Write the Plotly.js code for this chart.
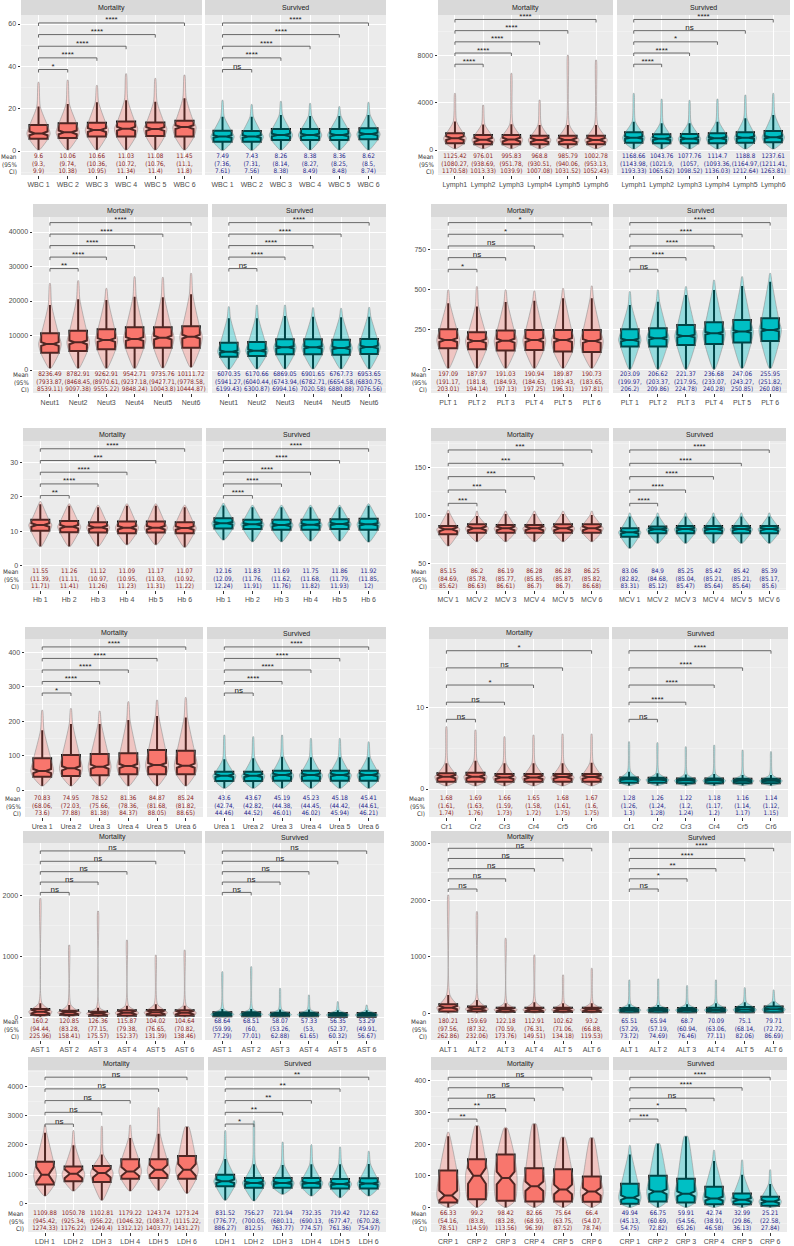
<!DOCTYPE html>
<html>
<head>
<meta charset="utf-8">
<script src="https://cdn.plot.ly/plotly-3.0.1.min.js"></script>
<style>body{margin:0;background:#fff}</style>
</head>
<body>
<div id="chart" style="width:794px;height:1246px"></div>
<script>
// box rows: [lower whisker, q1, median, q3, upper whisker, violin top, notch half-span]
// mean rows: [mean, ci low, ci high]
const wbcLabels = ['WBC 1', 'WBC 2', 'WBC 3', 'WBC 4', 'WBC 5', 'WBC 6'];
const wbcMortBox = [[0.5, 5.8, 8.3, 12.3, 21, 32.5, 0.9], [0.5, 6.1, 8.8, 13.1, 22.2, 33.5, 0.9], [0.5, 6.8, 9.9, 13.4, 23, 31, 0.9], [0.5, 6.8, 10.5, 13.9, 24, 36.5, 0.9], [0.5, 7.1, 10.4, 13.5, 23.3, 34.3, 0.9], [0.5, 6.8, 11.3, 14.3, 24.9, 35.9, 0.9]];
const wbcSurvBox = [[0.3, 4.4, 6.8, 9.6, 16.2, 24, 0.6], [0.3, 4.4, 6.8, 9.4, 16.2, 22, 0.6], [0.5, 5.2, 7.6, 10.4, 17, 23.5, 0.6], [0.5, 5.2, 7.6, 10.4, 16.5, 22.5, 0.6], [0.5, 5.2, 7.6, 10.4, 16.5, 21, 0.6], [0.5, 5.5, 8, 10.7, 17, 23, 0.6]];
const wbcMortMean = [[9.6, 9.3, 9.9], [10.06, 9.74, 10.38], [10.66, 10.36, 10.95], [11.03, 10.72, 11.34], [11.08, 10.76, 11.4], [11.45, 11.1, 11.8]];
const wbcSurvMean = [[7.49, 7.36, 7.61], [7.43, 7.31, 7.56], [8.26, 8.14, 8.38], [8.38, 8.27, 8.49], [8.36, 8.25, 8.48], [8.62, 8.5, 8.74]];
const wbcMortSig = ['*', '****', '****', '****', '****'];
const wbcSurvSig = ['ns', '****', '****', '****', '****'];

const lymLabels = ['Lymph1', 'Lymph2', 'Lymph3', 'Lymph4', 'Lymph5', 'Lymph6'];
const lymMortBox = [[100, 560, 1000, 1408, 2400, 4789, 160], [100, 480, 860, 1268, 2150, 3800, 160], [100, 480, 880, 1268, 2170, 6480, 160], [100, 480, 850, 1211, 2113, 4225, 160], [100, 480, 850, 1211, 2113, 8028, 160], [100, 480, 850, 1211, 2113, 7606, 160]];
const lymSurvBox = [[80, 620, 1040, 1493, 2394, 4789, 100], [80, 563, 950, 1324, 2254, 4300, 100], [80, 570, 960, 1352, 2254, 4200, 100], [80, 580, 990, 1408, 2394, 4310, 100], [80, 620, 1040, 1493, 2676, 4648, 100], [80, 648, 1080, 1606, 2958, 4789, 100]];
const lymMortMean = [[1125.42, 1080.27, 1170.58], [976.01, 938.69, 1013.33], [995.83, 951.78, 1039.9], [968.8, 930.51, 1007.08], [985.79, 940.06, 1031.52], [1002.78, 953.13, 1052.43]];
const lymSurvMean = [[1168.66, 1143.98, 1193.33], [1043.76, 1021.9, 1065.62], [1077.76, 1057, 1098.52], [1114.7, 1093.36, 1136.03], [1188.8, 1164.97, 1212.64], [1237.61, 1211.41, 1263.81]];
const lymMortSig = ['****', '****', '****', '****', '****'];
const lymSurvSig = ['****', '****', '*', 'ns', '****'];

const neuLabels = ['Neut1', 'Neut2', 'Neut3', 'Neut4', 'Neut5', 'Neut6'];
const neuMortBox = [[480, 5023, 7535, 10626, 18837, 25116, 550], [480, 5506, 8018, 11399, 20479, 25889, 550], [480, 5989, 8694, 11785, 20286, 23667, 550], [480, 6472, 8984, 12365, 21252, 27048, 550], [580, 6472, 9370, 12365, 21059, 26855, 550], [770, 6472, 9660, 12655, 21928, 28014, 550]];
const neuSurvBox = [[200, 3864, 5313, 7921, 15000, 18354, 350], [300, 4057, 5603, 8114, 14973, 18837, 350], [300, 4540, 6569, 8887, 15649, 18837, 350], [300, 4540, 6569, 8887, 15456, 18064, 350], [300, 4444, 6376, 8791, 15263, 17871, 350], [300, 4637, 6665, 8984, 15456, 18160, 350]];
const neuMortMean = [[8236.49, 7933.87, 8539.11], [8782.91, 8468.45, 9097.38], [9262.91, 8970.61, 9555.22], [9542.71, 9237.18, 9848.24], [9735.76, 9427.71, 10043.8], [10111.72, 9778.58, 10444.87]];
const neuSurvMean = [[6070.35, 5941.27, 6199.43], [6170.66, 6040.44, 6300.87], [6869.05, 6743.94, 6994.16], [6901.65, 6782.71, 7020.58], [6767.73, 6654.58, 6880.88], [6953.65, 6830.75, 7076.56]];
const neuMortSig = ['**', '****', '****', '****', '****'];
const neuSurvSig = ['ns', '****', '****', '****', '****'];

const pltLabels = ['PLT 1', 'PLT 2', 'PLT 3', 'PLT 4', 'PLT 5', 'PLT 6'];
const pltMortBox = [[10, 135, 187, 254, 417, 500, 12], [10, 129, 181, 235, 396, 521, 12], [10, 121, 183, 246, 425, 500, 12], [10, 125, 187, 250, 433, 494, 12], [10, 115, 187, 250, 448, 510, 12], [10, 112, 181, 250, 448, 525, 12]];
const pltSurvBox = [[5, 146, 187, 254, 406, 490, 8], [5, 146, 198, 260, 427, 500, 8], [5, 156, 212, 281, 469, 521, 8], [5, 162, 229, 298, 500, 562, 8], [10, 171, 240, 312, 525, 583, 8], [10, 181, 250, 323, 552, 604, 8]];
const pltMortMean = [[197.09, 191.17, 203.01], [187.97, 181.8, 194.14], [191.03, 184.93, 197.13], [190.94, 184.63, 197.25], [189.87, 183.43, 196.31], [190.73, 183.65, 197.81]];
const pltSurvMean = [[203.09, 199.97, 206.2], [206.62, 203.37, 209.86], [221.37, 217.95, 224.78], [236.68, 233.07, 240.28], [247.06, 243.27, 250.85], [255.95, 251.82, 260.08]];
const pltMortSig = ['*', 'ns', 'ns', '*', '*'];
const pltSurvSig = ['ns', '****', '****', '****', '****'];

const hbLabels = ['Hb 1', 'Hb 2', 'Hb 3', 'Hb 4', 'Hb 5', 'Hb 6'];
const hbMortBox = [[5.5, 10.1, 11.8, 13.3, 17.9, 18.7, 0.5], [5.5, 9.7, 11.3, 13.0, 17.4, 18.0, 0.5], [5.6, 9.6, 11.1, 12.6, 17.0, 17.6, 0.5], [6.0, 9.4, 11.0, 12.8, 17.4, 18.0, 0.5], [6.0, 9.6, 11.0, 12.8, 17.4, 18.0, 0.5], [5.3, 9.4, 10.9, 12.6, 17.0, 17.6, 0.5]];
const hbSurvBox = [[7.4, 10.8, 12.3, 13.8, 17.5, 18.2, 0.35], [6.9, 10.6, 12.0, 13.3, 17.0, 17.6, 0.35], [6.9, 10.4, 11.8, 13.3, 17.0, 17.6, 0.35], [7.1, 10.4, 11.9, 13.3, 17.0, 17.6, 0.35], [7.1, 10.6, 12.1, 13.5, 17.0, 17.6, 0.35], [6.8, 10.4, 12.0, 13.6, 17.4, 18.0, 0.35]];
const hbMortMean = [[11.55, 11.39, 11.71], [11.26, 11.11, 11.41], [11.12, 10.97, 11.26], [11.09, 10.95, 11.23], [11.17, 11.03, 11.31], [11.07, 10.92, 11.22]];
const hbSurvMean = [[12.16, 12.09, 12.24], [11.83, 11.76, 11.91], [11.69, 11.62, 11.76], [11.75, 11.68, 11.82], [11.86, 11.79, 11.93], [11.92, 11.85, 12]];
const hbMortSig = ['**', '****', '****', '***', '****'];
const hbSurvSig = ['****', '****', '****', '****', '****'];

const mcvLabels = ['MCV 1', 'MCV 2', 'MCV 3', 'MCV 4', 'MCV 5', 'MCV 6'];
const mcvMortBox = [[68.7, 80.8, 86.0, 89.5, 102.6, 106, 2], [73.2, 82.5, 87.0, 91.2, 99.8, 105, 2], [73.2, 82.5, 87.0, 90.5, 101.9, 105, 2], [73.2, 82.5, 87.0, 90.5, 101.9, 105, 2], [73.2, 82.5, 87.0, 91.2, 101.9, 105, 2], [73.2, 82.5, 87.0, 91.2, 100.9, 105, 2]];
const mcvSurvBox = [[66.3, 78.4, 82.9, 87.0, 99.2, 103, 1.2], [71.5, 81.8, 86.0, 88.8, 99.2, 103, 1.2], [71.5, 81.8, 86.3, 89.5, 99.2, 103, 1.2], [71.5, 81.8, 86.3, 89.5, 99.2, 103, 1.2], [71.5, 81.8, 86.3, 89.5, 99.2, 103, 1.2], [71.5, 81.8, 86.3, 89.5, 99.2, 103, 1.2]];
const mcvMortMean = [[85.15, 84.69, 85.62], [86.2, 85.78, 86.63], [86.19, 85.77, 86.61], [86.28, 85.85, 86.7], [86.28, 85.87, 86.7], [86.25, 85.82, 86.68]];
const mcvSurvMean = [[83.06, 82.82, 83.31], [84.9, 84.68, 85.12], [85.25, 85.04, 85.47], [85.42, 85.21, 85.64], [85.42, 85.21, 85.64], [85.39, 85.17, 85.6]];
const mcvMortSig = ['***', '***', '***', '***', '***'];
const mcvSurvSig = ['****', '****', '****', '****', '****'];

const ureaLabels = ['Urea 1', 'Urea 2', 'Urea 3', 'Urea 4', 'Urea 5', 'Urea 6'];
const ureaMortBox = [[11.6, 38.7, 55.2, 92, 174, 232, 6], [11.6, 40.7, 63, 101.7, 191.8, 237, 6], [11.6, 42.6, 67.8, 104.6, 191.8, 229.5, 6], [11.6, 45.5, 69.7, 106.5, 203.4, 256.7, 6], [11.6, 45.5, 72.6, 116.2, 215, 261.5, 6], [11.6, 45.5, 70.7, 114.3, 211, 269, 6]];
const ureaSurvBox = [[4.8, 26.2, 41.6, 53.3, 89.1, 159.8, 4], [4.8, 26.2, 41.6, 53.3, 92, 155, 4], [4.8, 27.1, 43.6, 56.2, 96.9, 159.8, 4], [4.8, 27.1, 43.6, 56.2, 95, 150, 4], [4.8, 27.1, 43.6, 56.2, 95, 150, 4], [4.8, 27.1, 43.6, 56.2, 95, 140, 4]];
const ureaMortMean = [[70.83, 68.06, 73.6], [74.95, 72.03, 77.88], [78.52, 75.66, 81.38], [81.36, 78.36, 84.37], [84.87, 81.68, 88.05], [85.24, 81.82, 88.65]];
const ureaSurvMean = [[43.6, 42.74, 44.46], [43.67, 42.82, 44.52], [45.19, 44.38, 46.01], [45.23, 44.45, 46.02], [45.18, 44.42, 45.94], [45.41, 44.61, 46.21]];
const ureaMortSig = ['*', '****', '****', '****', '****'];
const ureaSurvSig = ['ns', '****', '****', '****', '****'];

const crLabels = ['Cr1', 'Cr2', 'Cr3', 'Cr4', 'Cr5', 'Cr6'];
const crMortBox = [[0.37, 0.9, 1.52, 1.93, 3.16, 7.67, 0.2], [0.37, 0.9, 1.52, 2.0, 3.48, 7.26, 0.2], [0.37, 0.9, 1.43, 1.85, 3.16, 6.44, 0.2], [0.37, 0.9, 1.43, 1.85, 3.16, 6.64, 0.2], [0.37, 0.9, 1.47, 1.85, 3.16, 6.77, 0.2], [0.37, 0.9, 1.47, 1.85, 3.24, 6.77, 0.2]];
const crSurvBox = [[0.41, 0.78, 1.19, 1.43, 2.13, 5.82, 0.08], [0.41, 0.78, 1.15, 1.39, 1.93, 5.7, 0.08], [0.41, 0.7, 1.07, 1.31, 1.8, 5.2, 0.08], [0.41, 0.7, 1.07, 1.31, 1.84, 5.4, 0.08], [0.41, 0.7, 1.03, 1.27, 1.72, 4.8, 0.08], [0.41, 0.7, 1.03, 1.27, 1.72, 4.6, 0.08]];
const crMortMean = [[1.68, 1.61, 1.74], [1.69, 1.63, 1.76], [1.66, 1.59, 1.73], [1.65, 1.58, 1.72], [1.68, 1.61, 1.75], [1.67, 1.6, 1.75]];
const crSurvMean = [[1.28, 1.26, 1.3], [1.26, 1.24, 1.28], [1.22, 1.2, 1.24], [1.18, 1.17, 1.2], [1.16, 1.14, 1.17], [1.14, 1.12, 1.15]];
const crMortSig = ['ns', 'ns', '*', 'ns', '*'];
const crSurvSig = ['ns', '****', '****', '****', '****'];

const astLabels = ['AST 1', 'AST 2', 'AST 3', 'AST 4', 'AST 5', 'AST 6'];
const astMortBox = [[5, 38, 93, 136, 229, 1950, 30], [5, 38, 82, 109, 202, 1185, 30], [5, 27, 66, 93, 158, 1742, 30], [5, 27, 76, 115, 191, 1267, 30], [5, 33, 82, 120, 213, 1021, 30], [5, 27, 76, 115, 191, 1103, 30]];
const astSurvBox = [[5, 16, 49, 82, 137, 748, 15], [5, 16, 49, 82, 137, 830, 15], [5, 16, 44, 76, 126, 475, 15], [5, 16, 44, 76, 126, 366, 15], [5, 11, 38, 71, 115, 257, 15], [5, 11, 38, 71, 115, 202, 15]];
const astMortMean = [[160.2, 94.44, 225.96], [120.85, 83.28, 158.41], [126.36, 77.15, 175.57], [115.87, 79.38, 152.37], [104.02, 76.65, 131.39], [104.64, 70.82, 138.46]];
const astSurvMean = [[68.64, 59.99, 77.29], [68.51, 60, 77.01], [58.07, 53.26, 62.88], [57.33, 53, 61.65], [56.35, 52.37, 60.32], [53.29, 49.91, 56.67]];
const astMortSig = ['ns', 'ns', 'ns', 'ns', 'ns'];
const astSurvSig = ['ns', 'ns', 'ns', 'ns', 'ns'];

const altLabels = ['ALT 1', 'ALT 2', 'ALT 3', 'ALT 4', 'ALT 5', 'ALT 6'];
const altMortBox = [[3, 30, 100, 159, 324, 2094, 30], [3, 30, 77, 118, 236, 1800, 30], [3, 24, 65, 100, 177, 1328, 30], [3, 24, 65, 100, 195, 1033, 30], [3, 24, 65, 100, 177, 679, 30], [3, 24, 65, 100, 177, 797, 30]];
const altSurvBox = [[3, 18, 59, 94, 159, 590, 15], [3, 18, 59, 94, 148, 608, 15], [3, 18, 59, 94, 159, 490, 15], [3, 18, 59, 100, 177, 590, 15], [3, 18, 65, 112, 195, 454, 15], [3, 18, 71, 118, 207, 413, 15]];
const altMortMean = [[180.21, 97.56, 262.86], [159.69, 87.32, 232.06], [122.18, 70.59, 173.76], [112.91, 76.31, 149.51], [102.62, 71.06, 134.18], [93.2, 66.88, 119.53]];
const altSurvMean = [[65.51, 57.29, 73.72], [65.94, 57.19, 74.69], [68.7, 60.94, 76.46], [70.09, 63.06, 77.11], [75.1, 68.14, 82.06], [79.71, 72.72, 86.69]];
const altMortSig = ['ns', 'ns', 'ns', 'ns', 'ns'];
const altSurvSig = ['ns', '*', '**', '****', '****'];

const ldhLabels = ['LDH 1', 'LDH 2', 'LDH 3', 'LDH 4', 'LDH 5', 'LDH 6'];
const ldhMortBox = [[257, 648, 983, 1430, 2413, 2680, 270], [424, 760, 1016, 1262, 1988, 2490, 150], [112, 737, 1039, 1284, 1676, 2636, 150], [424, 849, 1095, 1508, 2234, 2680, 150], [447, 871, 1150, 1508, 2379, 3273, 170], [346, 849, 1150, 1620, 2625, 2625, 200]];
const ldhSurvBox = [[112, 592, 760, 983, 1519, 2490, 60], [89, 536, 704, 871, 1340, 2826, 40], [313, 536, 704, 871, 1318, 2100, 40], [257, 536, 704, 871, 1340, 2011, 40], [201, 514, 670, 838, 1340, 1932, 40], [257, 514, 681, 860, 1352, 1787, 40]];
const ldhMortMean = [[1109.88, 945.42, 1274.33], [1050.78, 925.34, 1176.22], [1102.81, 956.22, 1249.4], [1179.22, 1046.32, 1312.12], [1243.74, 1083.7, 1403.77], [1273.24, 1115.22, 1431.27]];
const ldhSurvMean = [[831.52, 776.77, 886.27], [756.27, 700.05, 812.5], [721.94, 680.11, 763.77], [732.35, 690.13, 774.57], [719.42, 677.47, 761.36], [712.62, 670.28, 754.97]];
const ldhMortSig = ['ns', 'ns', 'ns', 'ns', 'ns'];
const ldhSurvSig = ['*', '**', '**', '**', '**'];

const crpLabels = ['CRP 1', 'CRP 2', 'CRP 3', 'CRP 4', 'CRP 5', 'CRP 6'];
const crpMortBox = [[0, 15.5, 38, 117, 225, 238, 15], [0, 26, 100, 152, 258, 258, 25], [0, 21, 93, 167, 250, 253, 20], [0, 19, 67, 124, 264, 264, 15], [0, 19, 57, 121, 222, 222, 15], [0, 18, 50, 98, 220, 220, 12]];
const crpSurvBox = [[0, 12, 31, 75, 167, 196, 7], [0, 19, 50, 100, 202, 202, 8], [0, 15.5, 43, 91, 225, 225, 8], [0, 10, 28, 65, 147, 181, 6], [0, 10, 24, 44, 103, 150, 5], [0, 5, 19, 34, 74, 119, 5]];
const crpMortMean = [[66.33, 54.16, 78.51], [99.2, 83.8, 114.59], [98.42, 83.28, 113.56], [82.66, 68.93, 96.39], [75.64, 63.75, 87.52], [66.4, 54.07, 78.74]];
const crpSurvMean = [[49.94, 45.13, 54.75], [66.75, 60.69, 72.82], [59.91, 54.56, 65.26], [42.74, 38.91, 46.58], [32.99, 29.86, 36.13], [25.21, 22.58, 27.84]];
const crpMortSig = ['**', '**', 'ns', 'ns', 'ns'];
const crpSurvSig = ['***', '*', 'ns', '****', '****'];

const facetNames = ['Mortality', 'Survived'];

// panel geometry in page pixels: row, facet x extents, y range, tick step, bracket start/step
const rows = [[0, 15, 175], [204, 217, 393], [428, 441, 590], [627, 639, 817], [831, 843, 1040], [1057, 1070, 1232]];
const panels = [
    { row: 0, fx: [21, 202, 205, 386], yr: [-11.34, 64.25], dt: 20, brk: [38.5, 5.5], lab: wbcLabels, box: [wbcMortBox, wbcSurvBox], mean: [wbcMortMean, wbcSurvMean], sig: [wbcMortSig, wbcSurvSig] },
    { row: 0, fx: [438, 613, 617, 790], yr: [-2113, 11408], dt: 4000, brk: [7250, 945], lab: lymLabels, box: [lymMortBox, lymSurvBox], mean: [lymMortMean, lymSurvMean], sig: [lymMortSig, lymSurvSig] },
    { row: 1, fx: [33, 208, 212, 386], yr: [-6667, 44348], dt: 10000, brk: [29400, 3330], lab: neuLabels, box: [neuMortBox, neuSurvBox], mean: [neuMortMean, neuSurvMean], sig: [neuMortSig, neuSurvSig] },
    { row: 1, fx: [431, 609, 613, 787], yr: [-144, 956], dt: 250, brk: [629, 73], lab: pltLabels, box: [pltMortBox, pltSurvBox], mean: [pltMortMean, pltSurvMean], sig: [pltMortSig, pltSurvSig] },
    { row: 2, fx: [23, 202, 206, 386], yr: [-7.24, 36.4], dt: 10, brk: [20.4, 3.43], lab: hbLabels, box: [hbMortBox, hbSurvBox], mean: [hbMortMean, hbSurvMean], sig: [hbMortSig, hbSurvSig] },
    { row: 2, fx: [431, 609, 613, 786], yr: [23, 177.7], dt: 50, brk: [113, 13.85], lab: mcvLabels, box: [mcvMortBox, mcvSurvBox], mean: [mcvMortMean, mcvSurvMean], sig: [mcvMortSig, mcvSurvSig] },
    { row: 3, fx: [25, 203, 207, 386], yr: [-78.5, 439], dt: 100, brk: [282, 33.5], lab: ureaLabels, box: [ureaMortBox, ureaSurvBox], mean: [ureaMortMean, ureaSurvMean], sig: [ureaMortSig, ureaSurvSig] },
    { row: 3, fx: [429, 609, 612, 788], yr: [-3.44, 18.45], dt: 10, brk: [8.57, 2.11], lab: crLabels, box: [crMortBox, crSurvBox], mean: [crMortMean, crSurvMean], sig: [crMortSig, crSurvSig] },
    { row: 4, fx: [23, 202, 205, 384], yr: [-372, 2857], dt: 1000, brk: [2047, 170], lab: astLabels, box: [astMortBox, astSurvBox], mean: [astMortMean, astSurvMean], sig: [astMortSig, astSurvSig] },
    { row: 4, fx: [431, 609, 612, 791], yr: [-473, 3014], dt: 1000, brk: [2200, 180], lab: altLabels, box: [altMortBox, altSurvBox], mean: [altMortMean, altSurvMean], sig: [altMortSig, altSurvSig] },
    { row: 5, fx: [28, 204, 208, 386], yr: [-972, 4559], dt: 1000, brk: [2714, 400], lab: ldhLabels, box: [ldhMortBox, ldhSurvBox], mean: [ldhMortMean, ldhSurvMean], sig: [ldhMortSig, ldhSurvSig] },
    { row: 5, fx: [431, 609, 613, 787], yr: [-77.5, 434], dt: 100, brk: [279, 33], lab: crpLabels, box: [crpMortBox, crpSurvBox], mean: [crpMortMean, crpSurvMean], sig: [crpMortSig, crpSurvSig] }
];

const W = 794, H = 1246;
const px = v => v / W;
const py = v => 1 - v / H;
const FONT = 'Liberation Sans, Arial, sans-serif';
const NARROW = 'Liberation Sans Narrow, DejaVu Sans Condensed, Liberation Sans, sans-serif';
const boxFill = ['#F8766D', '#00BFC4'];
const violinFill = ['rgba(248,118,109,0.32)', 'rgba(0,191,196,0.36)'];
const textCol = ['#8b1a1a', '#23238b'];
const violinW = [0.03, 0.33, 0.40, 0.30, 0.06, 0.012];
const meanOff = [18.3, 11, 3.6];   // px above plot bottom for the three text lines
const pos = [0, 1, 2, 3, 4, 5];

const data = [];
const layout = {
    width: W, height: H,
    margin: { l: 0, r: 0, t: 0, b: 0 },
    paper_bgcolor: 'white',
    plot_bgcolor: '#ebebeb',
    showlegend: false,
    font: { family: FONT },
    shapes: [],
    annotations: []
};

let axId = 1;
panels.forEach(p => {
    const [stripTop, top, bottom] = rows[p.row];
    const dpp = (p.yr[1] - p.yr[0]) / (bottom - top);  // data units per pixel

    // "Mean (95% CI)" side label
    ['Mean', '(95%', 'CI)'].forEach((t, k) => {
        layout.annotations.push({
            xref: 'paper', yref: 'paper', x: px(p.fx[0] - 2), y: py(bottom - meanOff[k]),
            xanchor: 'right', yanchor: 'middle', text: t, showarrow: false,
            font: { size: 6.3, color: '#333333', family: NARROW }
        });
    });

    [0, 1].forEach(f => {
        const id = axId++;
        const xn = id === 1 ? 'x' : 'x' + id;
        const yn = id === 1 ? 'y' : 'y' + id;
        const x0 = p.fx[f * 2], x1 = p.fx[f * 2 + 1];
        const box = p.box[f];

        layout['xaxis' + (id === 1 ? '' : id)] = {
            domain: [px(x0), px(x1)], anchor: yn, range: [-0.6, 5.6],
            tickmode: 'array', tickvals: pos, ticktext: p.lab, tickangle: 0,
            ticks: 'outside', ticklen: 2.5, tickcolor: '#333333',
            tickfont: { size: 7, color: '#4d4d4d' },
            showgrid: true, gridcolor: 'white', gridwidth: 1,
            zeroline: false, showline: false, fixedrange: true
        };
        layout['yaxis' + (id === 1 ? '' : id)] = {
            domain: [py(bottom), py(top)], anchor: xn, range: p.yr,
            tick0: 0, dtick: p.dt, tickformat: 'd',
            showticklabels: f === 0, ticks: f === 0 ? 'outside' : '', ticklen: 2.5, tickcolor: '#333333',
            tickfont: { size: 7, color: '#4d4d4d' },
            showgrid: true, gridcolor: 'white', gridwidth: 1,
            minor: { dtick: p.dt / 2, showgrid: true, gridcolor: 'rgba(255,255,255,0.6)', gridwidth: 0.5, ticks: '' },
            zeroline: false, showline: false, fixedrange: true
        };

        // strip header
        layout.shapes.push({
            type: 'rect', xref: 'paper', yref: 'paper', layer: 'below',
            x0: px(x0), x1: px(x1), y0: py(top), y1: py(stripTop),
            fillcolor: '#d9d9d9', line: { width: 0 }
        });
        layout.annotations.push({
            xref: 'paper', yref: 'paper', x: px((x0 + x1) / 2), y: py((stripTop + top) / 2),
            xanchor: 'center', yanchor: 'middle', text: facetNames[f], showarrow: false,
            font: { size: 7, color: '#1a1a1a' }
        });

        // violins drawn as outlines around the box stats
        const vx = [], vy = [];
        box.forEach((s, i) => {
            const ys = s.slice(0, 6);
            ys.forEach((v, k) => { vx.push(i + violinW[k]); vy.push(v); });
            for (let k = 5; k >= 0; k--) { vx.push(i - violinW[k]); vy.push(ys[k]); }
            vx.push(i + violinW[0]); vy.push(ys[0]);
            vx.push(null); vy.push(null);
        });
        data.push({
            type: 'scatter', mode: 'lines', xaxis: xn, yaxis: yn, x: vx, y: vy,
            fill: 'toself', fillcolor: violinFill[f],
            line: { color: 'rgba(140,140,140,0.55)', width: 1, shape: 'spline', smoothing: 0.7 },
            hoverinfo: 'skip'
        });

        // notched boxes
        data.push({
            type: 'box', xaxis: xn, yaxis: yn, x: pos,
            lowerfence: box.map(s => s[0]), q1: box.map(s => s[1]), median: box.map(s => s[2]),
            q3: box.map(s => s[3]), upperfence: box.map(s => s[4]),
            notched: true, notchspan: box.map(s => s[6]), notchwidth: 0.3,
            width: 0.62, whiskerwidth: 0, boxpoints: false,
            fillcolor: boxFill[f], line: { color: 'black', width: 2 },
            hoverinfo: 'skip'
        });

        // significance brackets
        const tick = 3 * dpp;
        const bx = [], by = [], lx = [], ly = [];
        p.sig[f].forEach((s, i) => {
            const yb = p.brk[0] + i * p.brk[1];
            bx.push(0, 0, i + 1, i + 1, null);
            by.push(yb - tick, yb, yb, yb - tick, null);
            lx.push((i + 1) / 2);
            ly.push(yb - 1.5 * dpp);
        });
        data.push({
            type: 'scatter', mode: 'lines', xaxis: xn, yaxis: yn, x: bx, y: by,
            line: { color: '#595959', width: 0.9 }, hoverinfo: 'skip'
        });
        data.push({
            type: 'scatter', mode: 'text', xaxis: xn, yaxis: yn, x: lx, y: ly,
            text: p.sig[f], textposition: 'top center',
            textfont: { size: 8, color: '#1a1a1a' }, hoverinfo: 'skip', cliponaxis: false
        });

        // mean and 95% CI under each group
        const m = p.mean[f];
        const lines = [m.map(r => String(r[0])), m.map(r => '(' + r[1] + ','), m.map(r => r[2] + ')')];
        lines.forEach((txt, k) => {
            data.push({
                type: 'scatter', mode: 'text', xaxis: xn, yaxis: yn, x: pos,
                y: pos.map(() => p.yr[0] + meanOff[k] * dpp),
                text: txt, textposition: 'middle center',
                textfont: { size: 6.3, color: textCol[f], family: NARROW }, hoverinfo: 'skip'
            });
        });
    });
});

Plotly.newPlot('chart', data, layout, { staticPlot: true, displayModeBar: false });
</script>
</body>
</html>
